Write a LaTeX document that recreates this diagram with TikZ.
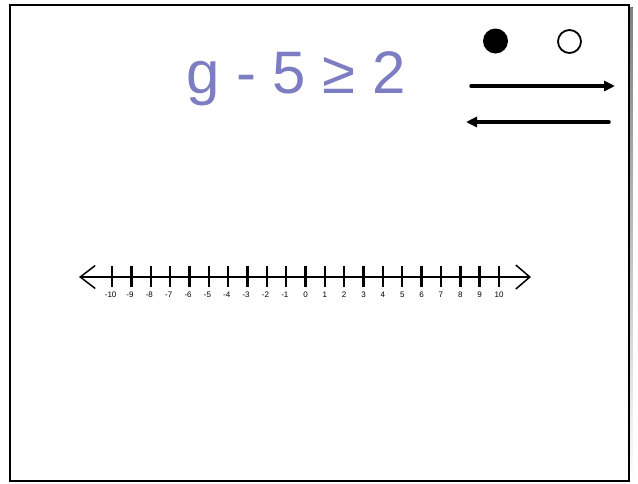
\documentclass[tikz,border=0pt]{standalone}
\usepackage{fontspec}
\setmainfont{Liberation Sans}
\usetikzlibrary{arrows.meta}
\definecolor{slate}{HTML}{7D7DC2}
\definecolor{shade}{HTML}{8C8C8C}

\begin{document}
\begin{tikzpicture}[x=1pt,y=-1pt,every node/.style={inner sep=0pt},numline/.style={black,line width=1.5pt,{Straight Barb[length=15pt,width=23pt]}-{Straight Barb[length=14pt,width=24pt]}},tickmark/.style={black,line width=2.4pt},pointer/.style={black,line width=3.5pt,line cap=round,-{Triangle[length=11pt,width=10pt]}},ticklabel/.style={font=\fontsize{8}{8}\selectfont}]
\useasboundingbox (0,0) rectangle (638,483);
\fill[shade] (13,7) rectangle (632.5,483);\draw[black,line width=2pt,fill=white] (10,4.5) rectangle (628.5,480.5);
\node[anchor=base west,text=slate,font=\fontsize{60}{60}\selectfont] (title) at (186,93){g - 5 ≥ 2};
\node[circle,fill=black,minimum size=25pt] (closed) at (495.5,41){};\node[circle,draw=black,line width=1.8pt,minimum size=23pt] (open) at (569.5,41.5){};
\coordinate (r0) at (471,86);\coordinate (r1) at (615,86);\draw[pointer] (r0)--(r1);
\coordinate (l0) at (609,122);\coordinate (l1) at (466,122);\draw[pointer] (l0)--(l1);
\coordinate (west) at (79,277);\coordinate (east) at (531,277);\draw[numline] (west)--(east);
\foreach \i in {-10,...,10}{\draw[tickmark] ({112+19.35*(\i+10)},266)--++(0,21);\node[ticklabel] (n\i) at ({112+19.35*(\i+10)},295){\ifnum\i<0 \llap{-}\number\numexpr-\i\relax\else\i\fi};}
\end{tikzpicture}
\end{document}
